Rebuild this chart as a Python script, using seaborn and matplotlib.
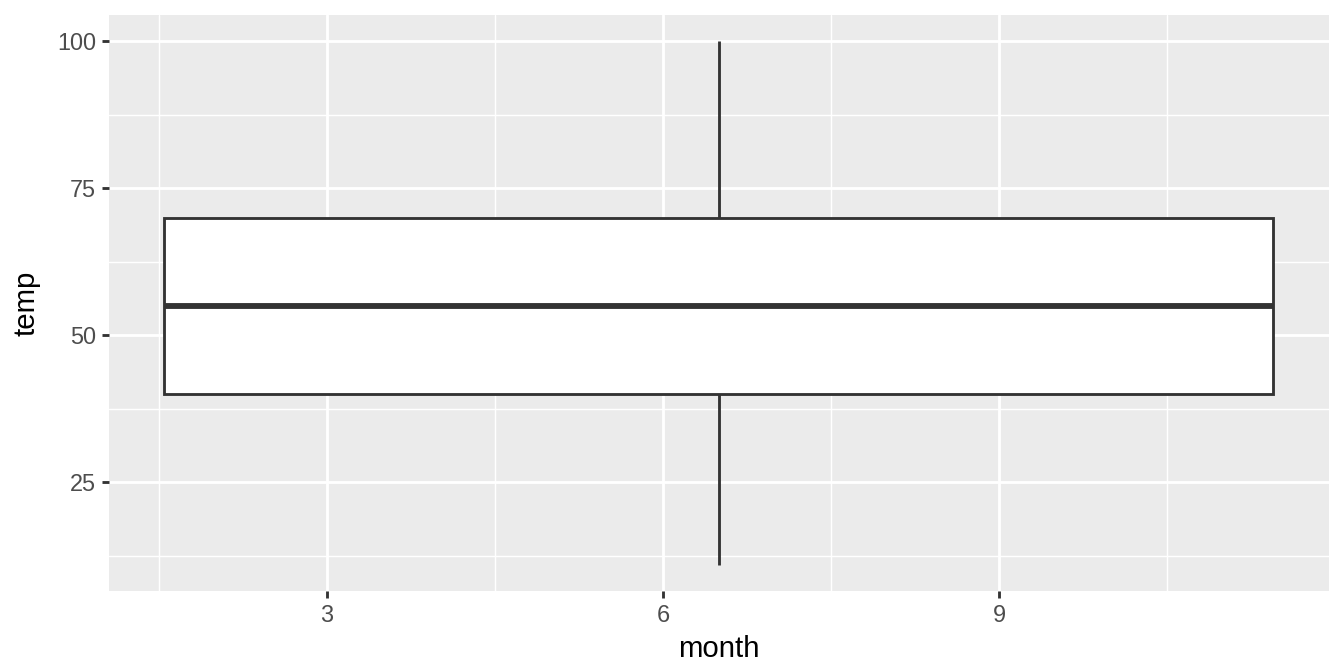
import numpy as np
import matplotlib
matplotlib.use("Agg")
import matplotlib.pyplot as plt
from matplotlib.ticker import FixedLocator
import seaborn as sns

# monthly temperatures
month = [1, 2, 3, 4, 5, 6, 7, 8, 9, 10, 11, 12]
temp = [11, 25, 40, 55, 70, 85, 100, 70, 60, 55, 50, 40]

x_ticks = [3, 6, 9]
y_ticks = [25, 50, 75, 100]

sns.set_theme(style="darkgrid", rc={
    "axes.facecolor": "#EBEBEB",
    "grid.color": "white",
    "axes.edgecolor": "none",
})
plt.rcParams['font.family'] = ['Liberation Sans', 'DejaVu Sans']

# ggplot-style: one box for a continuous x, centred on the range, width 0.9 * range
center = (min(month) + max(month)) / 2
span = max(month) - min(month)
width = 0.9 * span

fig, ax = plt.subplots(figsize=(7, 3.5), dpi=192)
fig.subplots_adjust(left=0.0811, right=0.9888, top=0.9777, bottom=0.1205)

sns.boxplot(x=np.full(len(temp), center), y=temp, native_scale=True,
            width=width, color="white", linecolor="#333333", linewidth=1.07,
            showcaps=False, fliersize=0, whis=1.5,
            medianprops={"linewidth": 2.2, "color": "#333333"},
            boxprops={"facecolor": "white"}, ax=ax)

lo = center - width / 2
hi = center + width / 2
pad = 0.05 * (hi - lo)
ax.set_xlim(lo - pad, hi + pad)
ymin, ymax = min(temp), max(temp)
ypad = 0.05 * (ymax - ymin)
ax.set_ylim(ymin - ypad, ymax + ypad)

ax.xaxis.set_major_locator(FixedLocator(x_ticks))
ax.yaxis.set_major_locator(FixedLocator(y_ticks))
ax.xaxis.set_minor_locator(FixedLocator([1.5, 4.5, 7.5, 10.5]))
ax.yaxis.set_minor_locator(FixedLocator([12.5, 37.5, 62.5, 87.5]))
ax.set_xticklabels([str(t) for t in x_ticks])
ax.set_yticklabels([str(t) for t in y_ticks])

ax.grid(which="major", color="white", linewidth=1.07)
ax.grid(which="minor", color="white", linewidth=0.53)
ax.set_axisbelow(True)

ax.tick_params(axis="both", which="major", length=2.75, width=1.07,
               color="#333333", labelsize=8.8, labelcolor="#4D4D4D", pad=2.2,
               bottom=True, left=True)
ax.tick_params(axis="both", which="minor", length=0, bottom=False, left=False)

ax.set_xlabel("month", fontsize=11, color="black", labelpad=3)
ax.set_ylabel("temp", fontsize=11, color="black", labelpad=6)
for s in ax.spines.values():
    s.set_visible(False)

fig.savefig("out.png", dpi=192)
